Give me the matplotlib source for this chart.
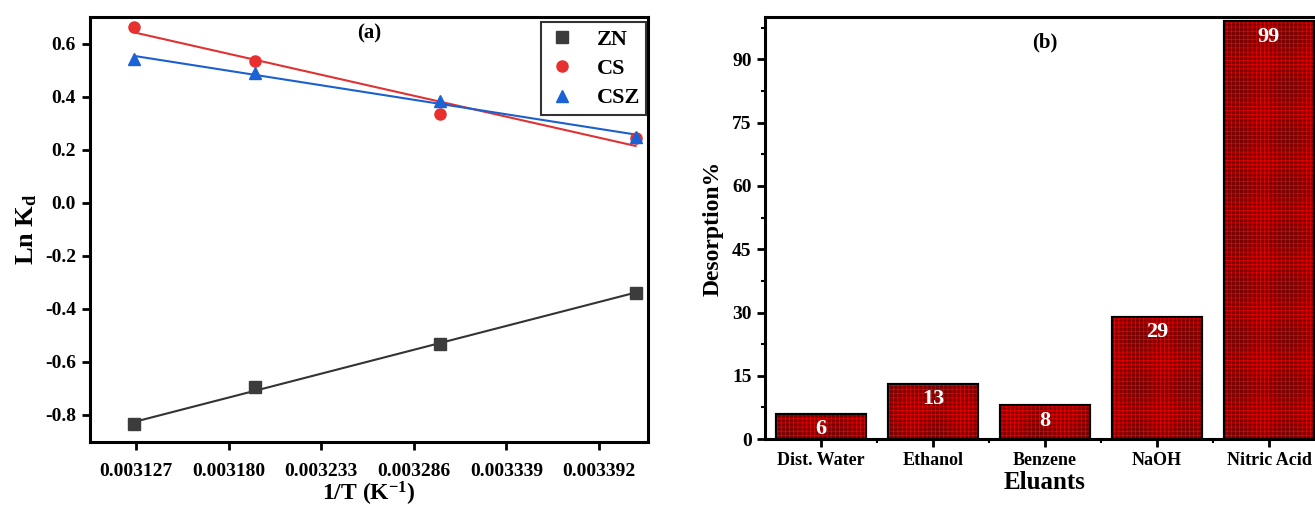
import numpy as np
import matplotlib
matplotlib.use("Agg")
import matplotlib.pyplot as plt
from matplotlib.ticker import FixedLocator, MultipleLocator

plt.rcParams["font.family"] = ["Liberation Serif", "DejaVu Serif"]
plt.rcParams["font.weight"] = "bold"
plt.rcParams["mathtext.fontset"] = "custom"
plt.rcParams["mathtext.rm"] = "Liberation Serif:bold"
plt.rcParams["mathtext.bf"] = "Liberation Serif:bold"
plt.rcParams["mathtext.it"] = "Liberation Serif:bold"
plt.rcParams["hatch.linewidth"] = 0.5

# (a) van't Hoff data
inv_T = [0.0031258, 0.0031953, 0.0033008, 0.0034130]
ln_kd_zn = [-0.836, -0.696, -0.531, -0.341]
ln_kd_cs = [0.663, 0.536, 0.336, 0.243]
ln_kd_csz = [0.544, 0.490, 0.384, 0.249]
x_ticks = [0.003127, 0.003180, 0.003233, 0.003286, 0.003339, 0.003392]

# (b) desorption data
eluants = ["Dist. Water", "Ethanol", "Benzene", "NaOH", "Nitric Acid"]
desorption = [6, 13, 8, 29, 99]

fig = plt.figure(figsize=(13.15, 5.07), dpi=100)
ax1 = fig.add_axes([0.0684, 0.128, 0.4245, 0.838])
ax2 = fig.add_axes([0.5817, 0.134, 0.4259, 0.832])

series = [
    ("ZN", ln_kd_zn, "s", "#3c3c3c", "#333333"),
    ("CS", ln_kd_cs, "o", "#e8302e", "#e03232"),
    ("CSZ", ln_kd_csz, "^", "#1a63d6", "#1c5fcf"),
]
x = np.array(inv_T)
for name, y, mk, mcol, lcol in series:
    ax1.plot(x, y, mk, color=mcol, ms=8, label=name, zorder=3)
    k, b = np.polyfit(x, y, 1)
    xf = np.array([x[0], x[-1]])
    ax1.plot(xf, k * xf + b, "-", color=lcol, lw=1.5, zorder=2)

ax1.set_xlim(0.0031005, 0.0034202)
ax1.set_ylim(-0.903, 0.70)
ax1.xaxis.set_major_locator(FixedLocator(x_ticks))
ax1.set_xticklabels([f"{t:.6f}" for t in x_ticks])
ax1.yaxis.set_major_locator(MultipleLocator(0.2))
ax1.yaxis.set_major_formatter(matplotlib.ticker.FormatStrFormatter("%.1f"))
ax1.tick_params(direction="out", length=6, width=2, labelsize=14, pad=9)
ax1.tick_params(axis="y", pad=4)
ax1.set_xlabel(r"1/T (K$^{\mathbf{-1}}$)", fontsize=17, fontweight="bold", labelpad=0)
ax1.set_ylabel(r"Ln K$_{\mathbf{d}}$", fontsize=19, fontweight="bold", labelpad=4)
ax1.text(0.5, 0.985, "(a)", transform=ax1.transAxes, ha="center", va="top",
         fontsize=15, fontweight="bold")
leg = ax1.legend(loc="upper right", fontsize=16, frameon=True, fancybox=False,
                 edgecolor="black", handletextpad=0.9, borderpad=0.3,
                 labelspacing=0.4, handlelength=1.3,
                 bbox_to_anchor=(0.997, 0.988), borderaxespad=0.0)
leg.get_frame().set_linewidth(1.5)
for sp in ax1.spines.values():
    sp.set_linewidth(2.2)

# (b) bars
pos = np.arange(len(eluants))
ax2.bar(pos, desorption, width=0.8, color="#7c0000", edgecolor="black",
        linewidth=1.5, zorder=2)
ax2.bar(pos, desorption, width=0.8, fill=False, hatch="++++",
        edgecolor="#f00000", linewidth=0, zorder=3)
ax2.bar(pos, desorption, width=0.8, fill=False, edgecolor="black",
        linewidth=1.5, zorder=4)
for p, v in zip(pos, desorption):
    ax2.text(p, v - 3.6, str(v), ha="center", va="center", color="white",
             fontsize=16, fontweight="bold", zorder=5)
ax2.set_xlim(-0.5, 4.5)
ax2.set_ylim(0, 100)
ax2.set_xticks(pos)
ax2.set_xticklabels(eluants)
ax2.xaxis.set_minor_locator(FixedLocator(pos[:-1] + 0.5))
ax2.yaxis.set_major_locator(MultipleLocator(15))
ax2.yaxis.set_minor_locator(MultipleLocator(7.5))
ax2.tick_params(which="major", direction="out", length=6, width=2, labelsize=14)
ax2.tick_params(which="minor", direction="out", length=3, width=1.5)
ax2.tick_params(axis="x", labelsize=13)
ax2.set_xlabel("Eluants", fontsize=18, fontweight="bold", labelpad=1)
ax2.set_ylabel("Desorption%", fontsize=17, fontweight="bold", labelpad=6)
ax2.text(0.5, 0.965, "(b)", transform=ax2.transAxes, ha="center", va="top",
         fontsize=15, fontweight="bold")
for sp in ax2.spines.values():
    sp.set_linewidth(2.2)

fig.savefig("out.png", dpi=100)
